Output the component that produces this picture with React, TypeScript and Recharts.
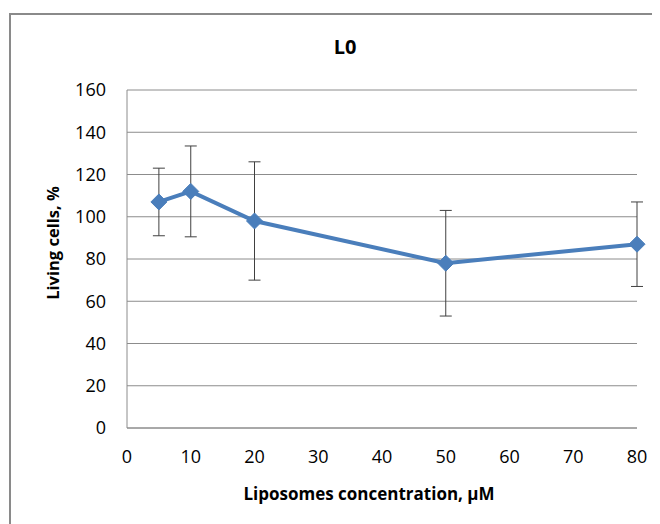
import { CartesianGrid, ErrorBar, Line, LineChart, XAxis, YAxis } from "recharts"

const concentrations = [5, 10, 20, 50, 80]
const livingCells = [107, 112, 98, 78, 87]
const livingCellsSd = [16, 21.5, 28, 25, 20]
const xTicks = [0, 10, 20, 30, 40, 50, 60, 70, 80]
const yTicks = [0, 20, 40, 60, 80, 100, 120, 140, 160]

const data = concentrations.map((c, i) => ({
  conc: c,
  living: livingCells[i],
  sd: livingCellsSd[i],
}))

const FONT = "'Open Sans', 'Liberation Sans', sans-serif"
const BLUE = "#4a7ebb"

const Diamond = ({ cx, cy }: any) => (
  <polygon
    points={`${cx},${cy - 8} ${cx + 8},${cy} ${cx},${cy + 8} ${cx - 8},${cy}`}
    fill={BLUE}
    stroke={BLUE}
  />
)

const YLabel = ({ viewBox }: any) => {
  const x = viewBox.x - 15
  const y = viewBox.y + viewBox.height / 2 - 16
  return (
    <text
      x={x}
      y={y}
      transform={`rotate(-90 ${x} ${y})`}
      textAnchor="middle"
      dominantBaseline="central"
      fontFamily={FONT}
      fontWeight="bold"
      fontSize={16.5}
      fill="#000"
    >
      Living cells, %
    </text>
  )
}

const XLabel = ({ viewBox }: any) => (
  <text
    x={viewBox.x + viewBox.width / 2 - 13}
    y={485}
    textAnchor="middle"
    dominantBaseline="central"
    fontFamily={FONT}
    fontWeight="bold"
    fontSize={17}
    fill="#000"
  >
    Liposomes concentration, µM
  </text>
)

const tickStyle = { fill: "#000", fontSize: 18, fontFamily: FONT }

export default function App() {
  return (
    <div style={{ position: "relative", width: 652, height: 516, overflow: "hidden", background: "#fff" }}>
      {/* outer chart frame, only top and left edges are in view */}
      <div
        style={{
          position: "absolute",
          left: 1,
          top: 5,
          width: 700,
          height: 600,
          border: "2px solid #8a8a8a",
          boxSizing: "border-box",
        }}
      />
      <div
        style={{
          position: "absolute",
          left: 0,
          width: 674,
          top: 26,
          textAlign: "center",
          fontFamily: FONT,
          fontWeight: "bold",
          fontSize: 20,
          lineHeight: "26px",
          color: "#000",
        }}
      >
        L0
      </div>
      <LineChart
        width={652}
        height={516}
        data={data}
        margin={{ top: 82, right: 23, bottom: 46, left: 59 }}
        style={{ position: "absolute", left: 0, top: 0 }}
      >
        <CartesianGrid vertical={false} stroke="#8c8c8c" strokeWidth={1} />
        <XAxis
          dataKey="conc"
          type="number"
          domain={[0, 80]}
          ticks={xTicks}
          height={50}
          tickLine={false}
          tickMargin={16}
          fontSize={18}
          axisLine={{ stroke: "#8c8c8c" }}
          tick={tickStyle}
          label={<XLabel />}
        />
        <YAxis
          type="number"
          domain={[0, 160]}
          ticks={yTicks}
          width={60}
          tickLine={false}
          tickMargin={15}
          fontSize={18}
          axisLine={{ stroke: "#8c8c8c" }}
          tick={tickStyle}
          label={<YLabel />}
        />
        <Line
          dataKey="living"
          stroke={BLUE}
          strokeWidth={4}
          dot={(p: any) => <Diamond key={`d-${p.index}`} cx={p.cx} cy={p.cy} />}
          activeDot={false}
          isAnimationActive={false}
        >
          <ErrorBar dataKey="sd" direction="y" width={6} stroke="#404040" strokeWidth={1} />
        </Line>
      </LineChart>
    </div>
  )
}
